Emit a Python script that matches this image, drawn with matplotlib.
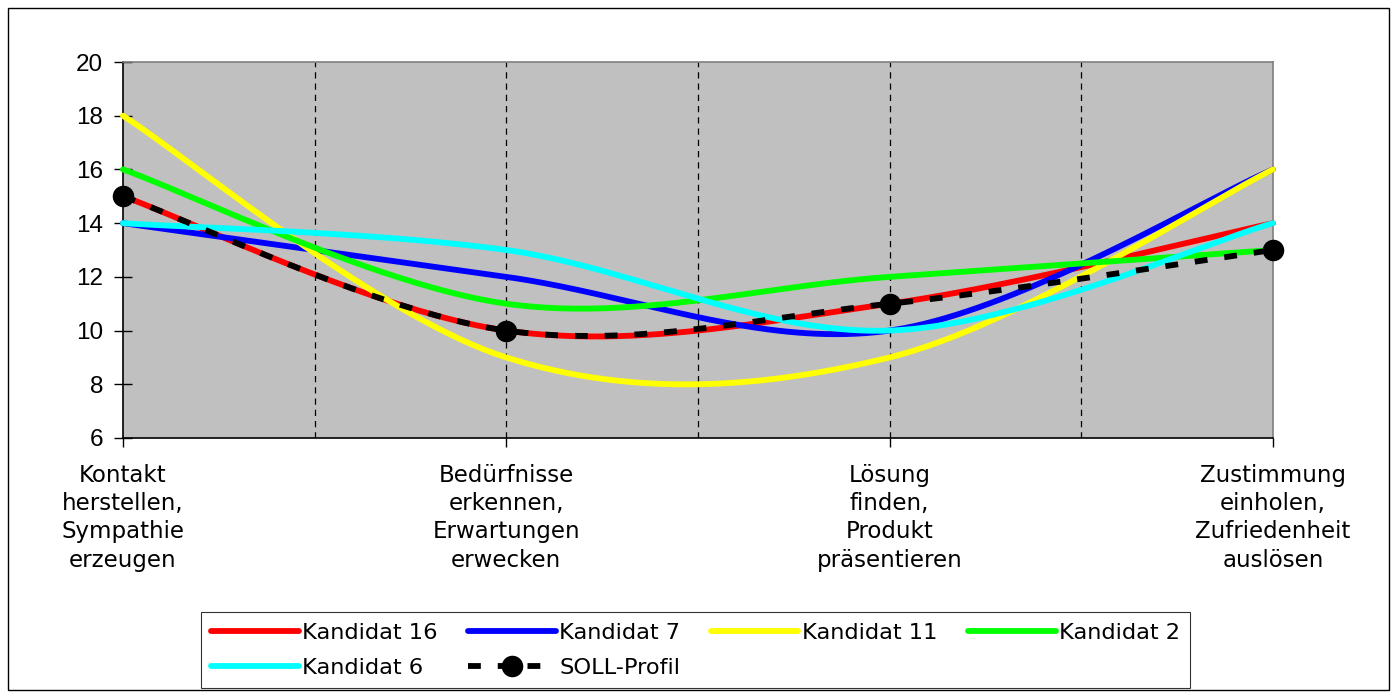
import numpy as np
import matplotlib.pyplot as plt
from matplotlib.lines import Line2D
from matplotlib.patches import Rectangle

categories = ["Kontakt\nherstellen,\nSympathie\nerzeugen",
              "Bedürfnisse\nerkennen,\nErwartungen\nerwecken",
              "Lösung\nfinden,\nProdukt\npräsentieren",
              "Zustimmung\neinholen,\nZufriedenheit\nauslösen"]

kandidat_16 = [15, 10, 11, 14]
kandidat_7 = [14, 12, 10, 16]
kandidat_11 = [18, 9, 9, 16]
kandidat_2 = [16, 11, 12, 13]
kandidat_6 = [14, 13, 10, 14]
soll_profil = [15, 10, 11, 13]

series = [("Kandidat 16", kandidat_16, "#ff0000"),
          ("Kandidat 7", kandidat_7, "#0000ff"),
          ("Kandidat 11", kandidat_11, "#ffff00"),
          ("Kandidat 2", kandidat_2, "#00ff00"),
          ("Kandidat 6", kandidat_6, "#00ffff")]


def smooth(vals, n=80):
    # bezier smoothing between the points, like a spreadsheet "smoothed line"
    pts = np.column_stack([np.arange(len(vals), dtype=float), np.array(vals, dtype=float)])
    t = np.linspace(0, 1, n)[:, None]
    out = []
    for i in range(len(pts) - 1):
        p0 = pts[max(i - 1, 0)]
        p1 = pts[i]
        p2 = pts[i + 1]
        p3 = pts[min(i + 2, len(pts) - 1)]
        c1 = p1 + (p2 - p0) / 6
        c2 = p2 - (p3 - p1) / 6
        seg = ((1 - t) ** 3) * p1 + 3 * ((1 - t) ** 2) * t * c1 + 3 * (1 - t) * t ** 2 * c2 + t ** 3 * p2
        out.append(seg if i == 0 else seg[1:])
    seg = np.vstack(out)
    return seg[:, 0], seg[:, 1]


fig = plt.figure(figsize=(13.97, 6.96), dpi=100)
ax = fig.add_axes([0.0880, 0.3707, 0.8232, 0.5402])
ax.set_facecolor("#c0c0c0")

lw = 4.2
dash = (2.2, 2.9)
handles = {}
for name, vals, col in series:
    xs, ys = smooth(vals)
    ax.plot(xs, ys, color=col, lw=lw, solid_capstyle="round", zorder=3, clip_on=False)
    handles[name] = Line2D([], [], color=col, lw=lw, solid_capstyle="round")

xs, ys = smooth(soll_profil)
ax.plot(xs, ys, color="black", lw=lw, dashes=dash, zorder=4, clip_on=False)
ax.plot(range(len(soll_profil)), soll_profil, "o", color="black", ms=14.5, zorder=5, clip_on=False)
handles["SOLL-Profil"] = Line2D([], [], color="black", lw=lw, dashes=dash, marker="o", ms=14.5)

for xv in [0.5, 1, 1.5, 2, 2.5]:
    ax.axvline(xv, color="black", lw=0.9, dashes=(5, 4), zorder=2)

ax.set_xlim(0, 3)
ax.set_ylim(6, 20)
ax.set_yticks(range(6, 21, 2))
ax.set_xticks(range(4))
ax.set_xticklabels(categories, fontsize=16.5, family="DejaVu Sans", linespacing=1.3)
for lab in ax.get_yticklabels():
    lab.set_family("Liberation Sans")
    lab.set_fontsize(17.5)
ax.tick_params(axis="y", direction="inout", length=12.5, width=1, pad=8)
ax.tick_params(axis="x", direction="out", length=6.5, width=1, pad=12)

for side in ["left", "bottom"]:
    ax.spines[side].set_color("black")
    ax.spines[side].set_linewidth(1.2)
for side in ["top", "right"]:
    ax.spines[side].set_color("#808080")
    ax.spines[side].set_linewidth(1.2)

# legend filled column by column, so order items to read row-wise
order = ["Kandidat 16", "Kandidat 6", "Kandidat 7", "SOLL-Profil", "Kandidat 11", "Kandidat 2"]
leg = fig.legend([handles[k] for k in order], order, ncol=4, loc="lower left",
                 bbox_to_anchor=(201 / 1397, 1 - 688 / 696, 989 / 1397, 76 / 696),
                 mode="expand", fontsize=16.2, handlelength=3.9, handletextpad=0.15,
                 columnspacing=0.5, labelspacing=0.68, borderpad=0.45, borderaxespad=0,
                 frameon=True, fancybox=False, edgecolor="black")
leg.get_frame().set_linewidth(0.8)

fig.patches.append(Rectangle((8 / 1397, 6 / 696), 1381 / 1397, 682 / 696,
                             transform=fig.transFigure, fill=False,
                             edgecolor="black", lw=1.0))

fig.savefig("out.png", dpi=100)
